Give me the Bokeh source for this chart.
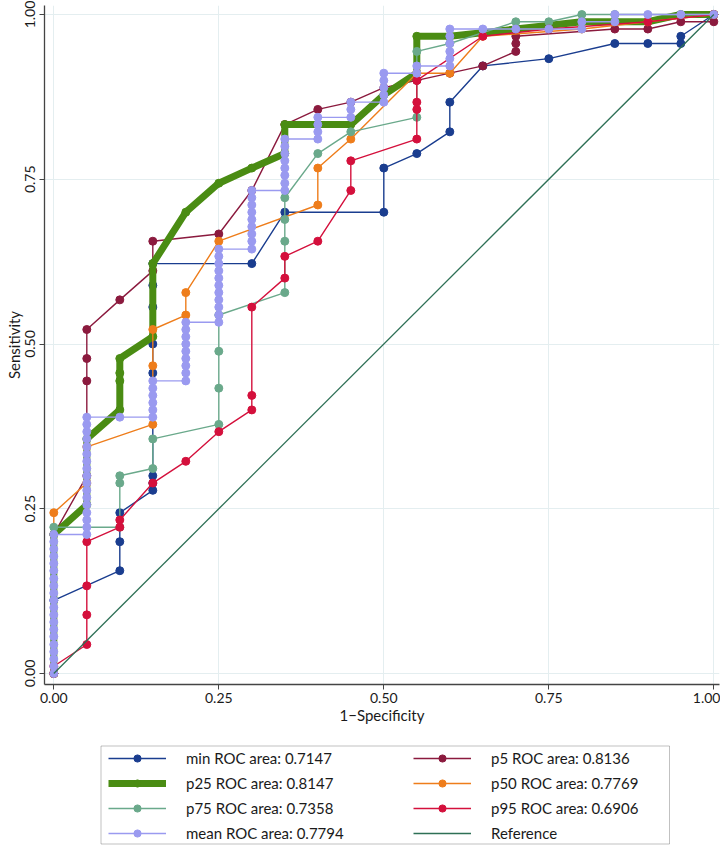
from bokeh.plotting import figure
from bokeh.models import Range1d, FixedTicker, NumeralTickFormatter, Legend, LegendItem, BoxAnnotation
from bokeh.layouts import column
from bokeh.embed import file_html
from bokeh.resources import INLINE

# ---------------- data ----------------
x_ticks = [0.0, 0.25, 0.5, 0.75, 1.0]
y_ticks = [0.0, 0.25, 0.5, 0.75, 1.0]

labels = ["min ROC area: 0.7147", "p5 ROC area: 0.8136", "p25 ROC area: 0.8147",
          "p50 ROC area: 0.7769", "p75 ROC area: 0.7358", "p95 ROC area: 0.6906",
          "mean ROC area: 0.7794", "Reference"]

min_x = [0.0, 0.0, 0.1, 0.1, 0.1, 0.15, 0.15, 0.15, 0.15, 0.15, 0.15, 0.15, 0.15,
         0.3, 0.35, 0.5, 0.5, 0.55, 0.6, 0.6, 0.65, 0.75, 0.85, 0.9, 0.95, 0.95, 1.0]
min_y = [0.0, 0.111, 0.156, 0.2, 0.244, 0.278, 0.289, 0.3, 0.456, 0.5, 0.556, 0.589, 0.622,
         0.622, 0.7, 0.7, 0.767, 0.789, 0.822, 0.867, 0.922, 0.933, 0.956, 0.956, 0.956, 0.967, 1.0]

p5_x = [0.0, 0.0, 0.05, 0.05, 0.05, 0.05, 0.1, 0.15, 0.15, 0.25, 0.3, 0.35, 0.4,
        0.45, 0.5, 0.55, 0.6, 0.65, 0.7, 0.7, 0.7, 0.85, 0.9, 0.95, 1.0, 1.0]
p5_y = [0.0, 0.211, 0.3, 0.444, 0.478, 0.522, 0.567, 0.611, 0.656, 0.667, 0.733, 0.833, 0.856,
        0.867, 0.889, 0.9, 0.911, 0.922, 0.944, 0.956, 0.967, 0.978, 0.978, 0.989, 0.989, 1.0]

p25_x = [0.0, 0.0, 0.05, 0.05, 0.1, 0.1, 0.1, 0.1, 0.15, 0.15, 0.2, 0.25, 0.3,
         0.35, 0.35, 0.45, 0.5, 0.55, 0.55, 0.6, 0.7, 0.8, 0.9, 0.95, 1.0]
p25_y = [0.0, 0.211, 0.256, 0.356, 0.4, 0.444, 0.456, 0.478, 0.511, 0.622, 0.7, 0.744, 0.767,
         0.789, 0.833, 0.833, 0.878, 0.911, 0.967, 0.967, 0.978, 0.989, 0.989, 1.0, 1.0]

p50_x = [0.0, 0.0, 0.05, 0.05, 0.15, 0.15, 0.15, 0.2, 0.2, 0.25, 0.4, 0.4, 0.45,
         0.55, 0.6, 0.65, 0.8, 0.9, 1.0]
p50_y = [0.0, 0.244, 0.289, 0.344, 0.378, 0.467, 0.522, 0.544, 0.578, 0.656, 0.711, 0.767, 0.811,
         0.911, 0.911, 0.967, 0.978, 0.989, 1.0]

p75_x = [0.0, 0.0, 0.1, 0.1, 0.1, 0.15, 0.15, 0.25, 0.25, 0.25, 0.25, 0.35, 0.35,
         0.35, 0.35, 0.4, 0.45, 0.55, 0.55, 0.6, 0.7, 0.75, 0.8, 0.85, 1.0]
p75_y = [0.0, 0.222, 0.222, 0.289, 0.3, 0.311, 0.356, 0.378, 0.433, 0.489, 0.544, 0.578, 0.656,
         0.689, 0.722, 0.789, 0.822, 0.844, 0.944, 0.956, 0.989, 0.989, 1.0, 1.0, 1.0]

p95_x = [0.0, 0.0, 0.05, 0.05, 0.05, 0.05, 0.1, 0.1, 0.15, 0.2, 0.25, 0.3, 0.3, 0.3,
         0.35, 0.35, 0.4, 0.45, 0.45, 0.55, 0.55, 0.55, 0.55, 0.65, 0.75, 0.9, 1.0]
p95_y = [0.0, 0.011, 0.044, 0.089, 0.133, 0.2, 0.222, 0.233, 0.289, 0.322, 0.367, 0.4, 0.422, 0.556,
         0.6, 0.633, 0.656, 0.733, 0.778, 0.811, 0.856, 0.867, 0.9, 0.967, 0.978, 0.989, 1.0]

mean_x = [0.0, 0.0, 0.0, 0.0, 0.0, 0.0, 0.0, 0.0, 0.0, 0.0,
          0.0, 0.0, 0.0, 0.0, 0.0, 0.0, 0.0, 0.0, 0.0, 0.0,
          0.05, 0.05, 0.05, 0.05, 0.05, 0.05, 0.05, 0.05, 0.05,
          0.05, 0.05, 0.05, 0.05, 0.05, 0.05, 0.05, 0.05,
          0.1,
          0.15, 0.15, 0.15, 0.15, 0.15, 0.15,
          0.2, 0.2, 0.2, 0.2, 0.2, 0.2, 0.2, 0.2, 0.2,
          0.25, 0.25, 0.25, 0.25, 0.25, 0.25, 0.25, 0.25, 0.25, 0.25, 0.25,
          0.3, 0.3, 0.3, 0.3, 0.3, 0.3, 0.3, 0.3, 0.3,
          0.35, 0.35, 0.35, 0.35, 0.35, 0.35, 0.35, 0.35,
          0.4, 0.4, 0.4, 0.4,
          0.45, 0.45, 0.45,
          0.5, 0.5, 0.5, 0.5, 0.5,
          0.55, 0.55,
          0.6, 0.6, 0.6, 0.6, 0.6, 0.6,
          0.65, 0.7, 0.75, 0.8, 0.8, 0.85, 0.85, 0.9, 0.95, 1.0]
mean_y = [0.0, 0.011, 0.022, 0.033, 0.044, 0.056, 0.067, 0.078, 0.089, 0.1,
          0.111, 0.122, 0.133, 0.144, 0.156, 0.167, 0.178, 0.189, 0.2, 0.211,
          0.211, 0.222, 0.233, 0.244, 0.256, 0.267, 0.278, 0.289, 0.3,
          0.311, 0.322, 0.333, 0.344, 0.356, 0.367, 0.378, 0.389,
          0.389,
          0.389, 0.4, 0.411, 0.422, 0.433, 0.444,
          0.444, 0.456, 0.467, 0.478, 0.489, 0.5, 0.511, 0.522, 0.533,
          0.533, 0.544, 0.556, 0.567, 0.578, 0.589, 0.6, 0.611, 0.622, 0.633, 0.644,
          0.644, 0.656, 0.667, 0.678, 0.689, 0.7, 0.711, 0.722, 0.733,
          0.733, 0.744, 0.756, 0.767, 0.778, 0.789, 0.8, 0.811,
          0.811, 0.822, 0.833, 0.844,
          0.844, 0.856, 0.867,
          0.867, 0.878, 0.889, 0.9, 0.911,
          0.911, 0.922,
          0.922, 0.933, 0.944, 0.956, 0.967, 0.978,
          0.978, 0.978, 0.978, 0.978, 0.989, 0.989, 1.0, 1.0, 1.0, 1.0]

ref_x = [0.0, 1.0]
ref_y = [0.0, 1.0]

# ---------------- styling ----------------
FONT = "Lato"
C_MIN, C_P5, C_P25, C_P50 = "#1a3d8f", "#8b1a3e", "#4a8c13", "#ee7d1b"
C_P75, C_P95, C_MEAN, C_REF = "#6aa98b", "#d4103c", "#9a9af0", "#2e7056"

series = [
    (labels[0], min_x, min_y, C_MIN, 1.4),
    (labels[1], p5_x, p5_y, C_P5, 1.4),
    (labels[2], p25_x, p25_y, C_P25, 7),
    (labels[3], p50_x, p50_y, C_P50, 1.4),
    (labels[4], p75_x, p75_y, C_P75, 1.4),
    (labels[5], p95_x, p95_y, C_P95, 1.4),
    (labels[6], mean_x, mean_y, C_MEAN, 1.4),
]

W = 720
FRAME_LEFT = 44
FRAME_RIGHT = 719
FRAME_TOP = 5
MAIN_H = 740
FRAME_BOTTOM = 684
LEG_H = 105

# ---------------- main plot ----------------
p = figure(width=W, height=MAIN_H,
           x_range=Range1d(-0.0141, 1.0086), y_range=Range1d(-0.0167, 1.0137),
           output_backend="svg", toolbar_location=None,
           min_border_top=FRAME_TOP, min_border_right=W - FRAME_RIGHT,
           min_border_bottom=MAIN_H - FRAME_BOTTOM, min_border_left=FRAME_LEFT)
p.outline_line_color = None
p.background_fill_color = "white"
p.border_fill_color = "white"

for lbl, xs, ys, col, lw in series:
    p.line(xs, ys, line_color=col, line_width=lw)
    p.scatter(xs, ys, size=8, fill_color=col, line_color=col, marker="circle")
p.line(ref_x, ref_y, line_color=C_REF, line_width=1.3)

p.xaxis.ticker = FixedTicker(ticks=x_ticks)
p.yaxis.ticker = FixedTicker(ticks=y_ticks)
p.xaxis.formatter = NumeralTickFormatter(format="0.00")
p.yaxis.formatter = NumeralTickFormatter(format="0.00")
p.xaxis.axis_label = "1−Specificity"
p.yaxis.axis_label = "Sensitivity"
p.yaxis.major_label_orientation = "vertical"
for ax in (p.xaxis[0], p.yaxis[0]):
    ax.axis_label_text_font = FONT
    ax.axis_label_text_font_style = "normal"
    ax.axis_label_text_font_size = "15px"
    ax.axis_label_text_color = "#1a1a1a"
    ax.major_label_text_font = FONT
    ax.major_label_text_font_size = "14px"
    ax.major_label_text_color = "#1a1a1a"
    ax.minor_tick_line_color = None
    ax.major_tick_in = 0
    ax.major_tick_out = 5
    ax.major_tick_line_color = "#444444"
    ax.axis_line_color = "#444444"
    ax.axis_line_width = 1.3
    ax.major_label_standoff = 3
    ax.axis_label_standoff = 0
p.yaxis.major_label_standoff = 4

p.xgrid.ticker = FixedTicker(ticks=x_ticks)
p.ygrid.ticker = FixedTicker(ticks=y_ticks)
p.grid.grid_line_color = "#e4eef0"
p.grid.grid_line_width = 1

# ---------------- legend panel (same frame edges; 1 data unit = 1 px) ----------------
top0 = MAIN_H
lf = figure(width=W, height=LEG_H,
            x_range=Range1d(FRAME_LEFT, FRAME_RIGHT), y_range=Range1d(top0 + LEG_H, top0),
            output_backend="svg", toolbar_location=None,
            x_axis_type=None, y_axis_type=None,
            min_border_left=FRAME_LEFT, min_border_right=W - FRAME_RIGHT,
            min_border_top=0, min_border_bottom=0)
lf.outline_line_color = None
lf.background_fill_color = "white"
lf.border_fill_color = "white"

# the series again (they lie outside this panel's ranges) to give the legend its glyphs
items = {}
for lbl, xs, ys, col, lw in series:
    lr = lf.line(xs, ys, line_color=col, line_width=lw)
    sr = lf.scatter(xs, ys, size=8, fill_color=col, line_color=col, marker="circle")
    items[lbl] = LegendItem(label=lbl, renderers=[lr, sr], index=0)
rr = lf.line(ref_x, ref_y, line_color=C_REF, line_width=1.3)
items[labels[7]] = LegendItem(label=labels[7], renderers=[rr])

BOX_L, BOX_R = 100.5, 669
BOX_T, BOX_B = 745.5, top0 + LEG_H - 1.5
lf.add_layout(BoxAnnotation(left=BOX_L, right=BOX_R, top=BOX_T, bottom=BOX_B,
                            fill_alpha=0, line_color="#333333", line_width=1))

ROW_H, GAP = 18, 7
LEG_BLOCK = 4 * ROW_H + 3 * GAP
ROW1_CENTER = 758
leg_top = ROW1_CENTER - ROW_H / 2
vy = (top0 + LEG_H) - (leg_top + LEG_BLOCK)

common = dict(orientation="vertical", glyph_width=58, glyph_height=ROW_H, label_height=ROW_H,
              spacing=GAP, label_standoff=20, padding=0, margin=0,
              border_line_color=None, background_fill_alpha=0,
              label_text_font=FONT, label_text_font_size="15px", label_text_color="#1a1a1a")

leg_a = Legend(items=[items[k] for k in (labels[0], labels[2], labels[4], labels[6])],
               location=(108 - FRAME_LEFT, vy), **common)
leg_b = Legend(items=[items[k] for k in (labels[1], labels[3], labels[5], labels[7])],
               location=(413 - FRAME_LEFT, vy), **common)
lf.add_layout(leg_a)
lf.add_layout(leg_b)

layout = column(p, lf, spacing=0)
open("out.html", "w").write(file_html(layout, INLINE))
